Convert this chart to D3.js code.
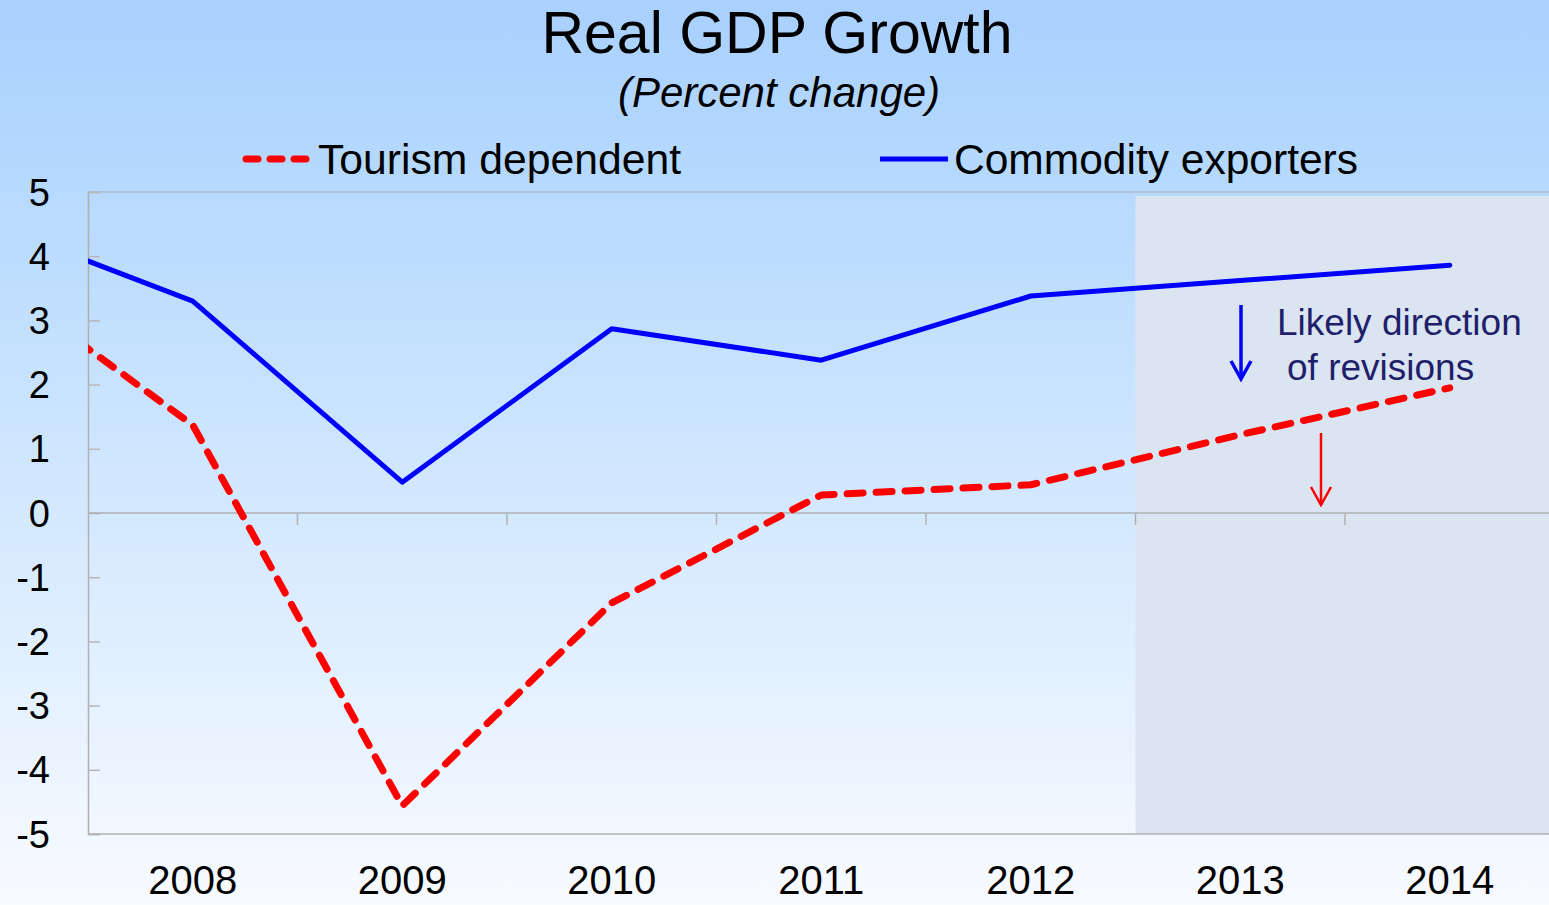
<!DOCTYPE html>
<meta charset="UTF-8">
<head>
    <title>Real GDP Growth</title>
</head>
<style>
    body { margin: 0; padding: 0; overflow: hidden; }
    svg { display: block; font-family: "Liberation Sans", Arial, sans-serif; }
</style>
<body>
<div id="chart"></div>
<script src="https://d3js.org/d3.v7.min.js"></script>
<script>
    // data (2007 sits left of the axis and gets clipped)
    var years = ["2007", "2008", "2009", "2010", "2011", "2012", "2013", "2014"];
    var tourism = [3.75, 1.37, -4.56, -1.4, 0.28, 0.44, 1.22, 1.95];
    var commodity = [4.55, 3.3, 0.48, 2.87, 2.38, 3.38, 3.62, 3.86];
    var yTicks = [5, 4, 3, 2, 1, 0, -1, -2, -3, -4, -5];
    var projStart = "2013";

    var W = 1549, H = 905;
    var plotLeft = 88, plotTop = 192, plotBottom = 834;

    var svg = d3.select("#chart").append("svg")
        .attr("width", W).attr("height", H);

    var defs = svg.append("defs");
    var grad = defs.append("linearGradient").attr("id", "bg")
        .attr("x1", 0).attr("y1", 0).attr("x2", 0).attr("y2", 1);
    grad.append("stop").attr("offset", "0%").attr("stop-color", "#a9d0fe");
    grad.append("stop").attr("offset", "22%").attr("stop-color", "#b7dafe");
    grad.append("stop").attr("offset", "100%").attr("stop-color", "#f8fbff");
    defs.append("clipPath").attr("id", "plotclip").append("rect")
        .attr("x", plotLeft).attr("y", plotTop - 10)
        .attr("width", W - plotLeft).attr("height", plotBottom - plotTop + 20);

    svg.append("rect").attr("width", W).attr("height", H).attr("fill", "url(#bg)");

    // band scale: 2008 band starts at the y axis
    var x = d3.scaleBand().domain(years).range([plotLeft - 209.5, plotLeft + 209.5 * 7]);
    var cx = function (d) { return x(d) + x.bandwidth() / 2; };
    var y = d3.scaleLinear().domain([-5, 5]).range([plotBottom, plotTop]);

    // projection shading
    svg.append("rect")
        .attr("x", x(projStart)).attr("y", plotTop + 4)
        .attr("width", W - x(projStart)).attr("height", plotBottom - plotTop - 4)
        .attr("fill", "#dbe5f1");

    // frame top line
    svg.append("line").attr("x1", plotLeft).attr("x2", W).attr("y1", plotTop).attr("y2", plotTop)
        .attr("stroke", "#b0b8c4").attr("stroke-width", 1.5);

    // y axis
    var yAxis = svg.append("g").attr("transform", "translate(" + plotLeft + ",0)")
        .call(d3.axisRight(y).tickValues(yTicks).tickSize(12).tickFormat(""));
    yAxis.select(".domain").attr("stroke", "#b0b0b0").attr("stroke-width", 1.5);
    yAxis.selectAll(".tick line").attr("stroke", "#b8b8b8").attr("stroke-width", 1.5);

    svg.selectAll(".ylab").data(yTicks).enter().append("text")
        .attr("x", 50).attr("y", function (d) { return y(d); })
        .attr("dy", "0.36em").attr("text-anchor", "end")
        .attr("font-size", 38).attr("fill", "#000")
        .text(function (d) { return d; });

    // zero line with category ticks
    svg.append("line").attr("x1", plotLeft).attr("x2", W).attr("y1", y(0)).attr("y2", y(0))
        .attr("stroke", "#b0b0b0").attr("stroke-width", 1.5);
    svg.selectAll(".xt").data(years.slice(2)).enter().append("line")
        .attr("x1", function (d) { return x(d); }).attr("x2", function (d) { return x(d); })
        .attr("y1", y(0)).attr("y2", y(0) + 12)
        .attr("stroke", "#b0b0b0").attr("stroke-width", 1.5);

    // bottom axis line
    svg.append("line").attr("x1", plotLeft).attr("x2", W).attr("y1", plotBottom).attr("y2", plotBottom)
        .attr("stroke", "#b0b0b0").attr("stroke-width", 1.5);

    svg.selectAll(".xlab").data(years.slice(1)).enter().append("text")
        .attr("x", cx).attr("y", 894)
        .attr("text-anchor", "middle").attr("font-size", 40).attr("fill", "#000")
        .text(function (d) { return d; });

    // lines
    var line = function (vals) {
        return d3.line().x(function (d, i) { return cx(years[i]); })
            .y(function (d) { return y(d); })(vals);
    };
    var plot = svg.append("g").attr("clip-path", "url(#plotclip)");
    plot.append("path").attr("d", line(commodity))
        .attr("fill", "none").attr("stroke", "#0000ff").attr("stroke-width", 5)
        .attr("stroke-linejoin", "round").attr("stroke-linecap", "round");
    plot.append("path").attr("d", line(tourism))
        .attr("fill", "none").attr("stroke", "#ff0000").attr("stroke-width", 7)
        .attr("stroke-dasharray", "16,13").attr("stroke-linecap", "round")
        .attr("stroke-linejoin", "round");

    // titles
    svg.append("text").attr("x", 777).attr("y", 53).attr("text-anchor", "middle")
        .attr("font-size", 59).attr("fill", "#000").text("Real GDP Growth");
    svg.append("text").attr("x", 779).attr("y", 107).attr("text-anchor", "middle")
        .attr("font-size", 42).attr("font-style", "italic").attr("fill", "#000")
        .text("(Percent change)");

    // legend
    svg.append("line").attr("x1", 246).attr("x2", 314).attr("y1", 159).attr("y2", 159)
        .attr("stroke", "#ff0000").attr("stroke-width", 7)
        .attr("stroke-dasharray", "12,12").attr("stroke-linecap", "round");
    svg.append("text").attr("x", 318).attr("y", 174).attr("font-size", 42)
        .attr("textLength", 363).attr("lengthAdjust", "spacingAndGlyphs")
        .attr("fill", "#000").text("Tourism dependent");
    svg.append("line").attr("x1", 880).attr("x2", 948).attr("y1", 159).attr("y2", 159)
        .attr("stroke", "#0000ff").attr("stroke-width", 5);
    svg.append("text").attr("x", 954).attr("y", 174).attr("font-size", 42)
        .attr("textLength", 404).attr("lengthAdjust", "spacingAndGlyphs")
        .attr("fill", "#000").text("Commodity exporters");

    // annotation
    svg.append("text").attr("x", 1277).attr("y", 335).attr("font-size", 37)
        .attr("fill", "#1f1f6b").text("Likely direction");
    svg.append("text").attr("x", 1287).attr("y", 380).attr("font-size", 37)
        .attr("fill", "#1f1f6b").text("of revisions");

    function arrow(x0, y0, y1, col, w) {
        svg.append("line").attr("x1", x0).attr("x2", x0).attr("y1", y0).attr("y2", y1)
            .attr("stroke", col).attr("stroke-width", w);
        svg.append("path")
            .attr("d", "M" + (x0 - 10) + "," + (y1 - 18) + "L" + x0 + "," + y1 + "L" + (x0 + 10) + "," + (y1 - 18))
            .attr("fill", "none").attr("stroke", col).attr("stroke-width", w);
    }
    arrow(1241, 305, 379, "#0000ff", 3.5);
    arrow(1321, 433, 505, "#ff0000", 2.5);
</script>
</body>
</html>
